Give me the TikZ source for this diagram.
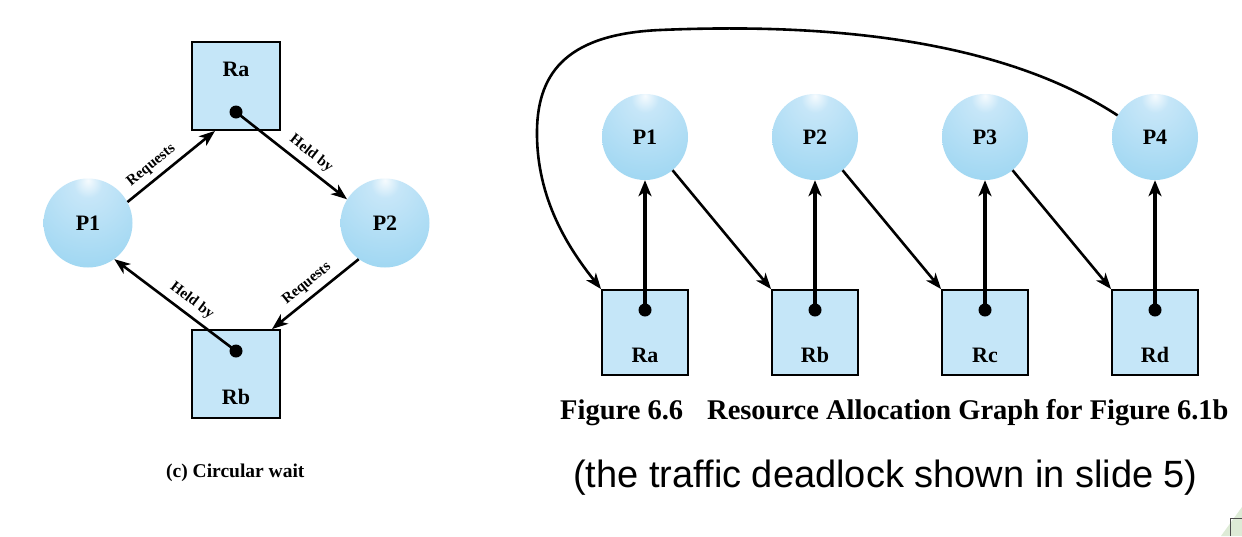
\documentclass[tikz,border=0pt]{standalone}
\usepackage{fontspec}
\setmainfont{Liberation Serif}
\newfontfamily\arialfont{Liberation Sans}
\usetikzlibrary{arrows.meta}
\definecolor{boxfill}{HTML}{C5E6F8}
\definecolor{sphA}{HTML}{F6FBFE}
\definecolor{sphB}{HTML}{C6E6F8}
\definecolor{sphC}{HTML}{A0D7F2}
\definecolor{sphD}{HTML}{82CAEE}
\definecolor{decogreen}{HTML}{DDEBD6}
\pgfdeclareradialshading{sphere}{\pgfpoint{0bp}{24bp}}{color(0bp)=(sphA); color(8bp)=(sphB); color(40bp)=(sphC); color(72bp)=(sphD); color(100bp)=(sphD)}
\begin{document}
\begin{tikzpicture}[x=1pt,y=-1pt,
  resbox/.style={draw=black, line width=1.8pt, fill=boxfill, minimum width=88pt, minimum height=88pt, inner sep=0pt},
  resboxR/.style={draw=black, line width=1.8pt, fill=boxfill, minimum width=86pt, minimum height=85pt, inner sep=0pt},
  proc/.style={circle, shading=sphere, minimum size=89pt, inner sep=0pt, font=\fontsize{22}{24}\selectfont\bfseries},
  procR/.style={proc, minimum size=86pt},
  rlabel/.style={font=\fontsize{22}{24}\selectfont\bfseries, inner sep=0pt},
  edge/.style={line width=2.6pt, -{Stealth[length=16pt,width=12pt,inset=4.5pt]}},
  heldR/.style={line width=4pt, -{Stealth[length=16pt,width=13pt,inset=4.5pt]}},
  elabel/.style={font=\fontsize{15}{16}\selectfont\bfseries, sloped, above=5.5pt, inner sep=0pt},
  dotr/.style={fill=black}
]
\useasboundingbox (0,0) rectangle (1242,536);
\fill[white] (0,0) rectangle (1242,536);

% ---------- left: circular wait ----------
\node[resbox] (LRa) at (236,86) {};
\node[resbox] (LRb) at (236,374) {};
\node[rlabel] (LRat) at ([yshift=17pt]LRa.center) {Ra};
\node[rlabel] (LRbt) at ([yshift=-23pt]LRb.center) {Rb};
\coordinate (LRad) at ([yshift=-26pt]LRa.center);
\coordinate (LRbd) at ([yshift=23pt]LRb.center);
\node[proc] (LP1) at (88,223) {P1};
\node[proc] (LP2) at (385,223) {P2};

\draw[edge] (LP1.28) -- node[elabel, pos=0.37] {Requests} ([xshift=-21pt]LRa.south);
\draw[edge] (LRad) -- node[elabel, pos=0.6] {Held by} (LP2.148);
\draw[edge] (LP2.234) -- node[elabel, pos=0.5] {Requests} ([xshift=36pt]LRb.north);
\draw[edge] (LRbd) -- node[elabel, pos=0.43] {Held by} (LP1.306);
\fill[dotr] (LRad) circle (6.5pt);
\fill[dotr] (LRbd) circle (6.5pt);

\node[anchor=base west, inner sep=0pt, font=\fontsize{19.5}{22}\selectfont\bfseries] (capL) at (166,477) {(c) Circular wait};

% ---------- right: resource allocation graph ----------
\foreach \i/\x in {1/645,2/815,3/985,4/1155}{
  \node[procR] (P\i) at (\x,137) {P\i};
}
\foreach \n/\x in {a/645,b/815,c/985,d/1155}{
  \node[resboxR] (R\n) at (\x,332.5) {};
  \node[rlabel] (R\n t) at ([yshift=-22.5pt]R\n.center) {R\n};
  \coordinate (R\n d) at ([yshift=22.5pt]R\n.center);
}
\draw[heldR] (Rad) -- (P1.south);
\draw[heldR] (Rbd) -- (P2.south);
\draw[heldR] (Rcd) -- (P3.south);
\draw[heldR] (Rdd) -- (P4.south);
\draw[edge] (P1) -- (Rb.north west);
\draw[edge] (P2) -- (Rc.north west);
\draw[edge] (P3) -- (Rd.north west);
\draw[edge] (P4.150) .. controls (990,32) and (800,24) .. (660,30)
   .. controls (570,34) and (538,70) .. (537,130)
   .. controls (536,200) and (570,250) .. (Ra.north west);
\foreach \n in {a,b,c,d}{ \fill[dotr] (R\n d) circle (6.5pt); }

\node[anchor=base west, inner sep=0pt, font=\fontsize{28.5}{30}\selectfont\bfseries] (capR) at (560,419) {Figure 6.6\hspace{24pt}Resource Allocation Graph for Figure 6.1b};
\node[anchor=base west, inner sep=0pt, font=\arialfont\fontsize{38}{40}\selectfont] (capS) at (573,487) {(the traffic deadlock shown in slide 5)};

% ---------- slide decoration corner ----------
\fill[decogreen] (1221,536) -- (1242,507) -- (1242,536) -- cycle;
\draw[black!70, line width=1pt] (1230,536) -- (1230,518) -- (1242,518);
\end{tikzpicture}
\end{document}
